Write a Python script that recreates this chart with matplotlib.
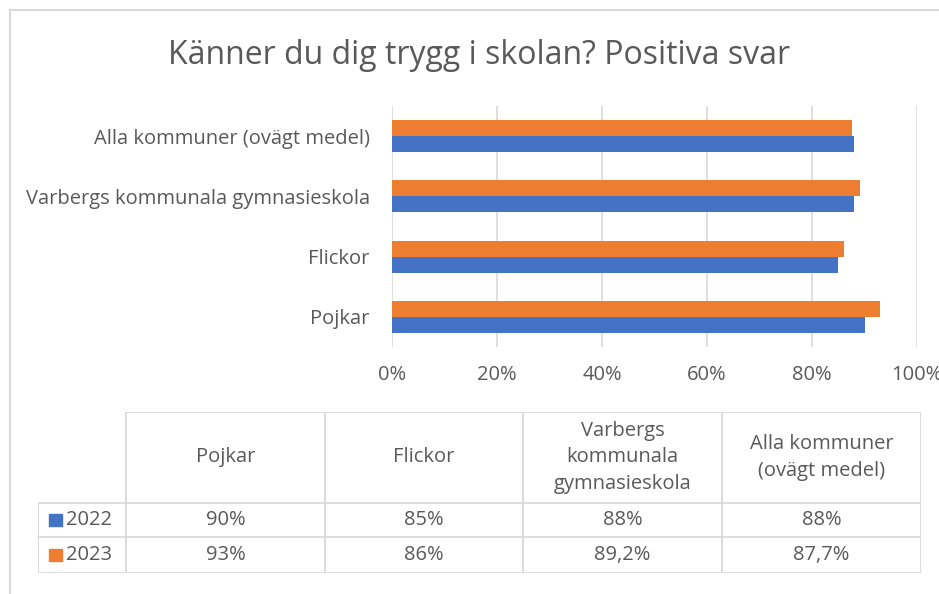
import numpy as np
import matplotlib
matplotlib.use("Agg")
import matplotlib.pyplot as plt
from matplotlib.lines import Line2D
from matplotlib.patches import Rectangle

plt.rcParams['font.family'] = ['Open Sans', 'DejaVu Sans']

# data
categories = ["Pojkar", "Flickor", "Varbergs kommunala gymnasieskola", "Alla kommuner (ovägt medel)"]
table_headers = ["Pojkar", "Flickor", "Varbergs\nkommunala\ngymnasieskola", "Alla kommuner\n(ovägt medel)"]
years = ["2022", "2023"]
values_2022 = [0.90, 0.85, 0.88, 0.88]
values_2023 = [0.93, 0.86, 0.892, 0.877]
labels_2022 = ["90%", "85%", "88%", "88%"]
labels_2023 = ["93%", "86%", "89,2%", "87,7%"]
x_ticks = [0, 0.2, 0.4, 0.6, 0.8, 1.0]
x_ticklabels = ["0%", "20%", "40%", "60%", "80%", "100%"]

title = "Känner du dig trygg i skolan? Positiva svar"

blue = "#4472c4"
orange = "#ed7d31"
grey_text = "#595959"
grid_col = "#d9d9d9"

W, H = 939, 594
fig = plt.figure(figsize=(W / 100, H / 100), dpi=100)


def box(x0, y0, x1, y1):
    # pixel box (top-left origin) -> figure fraction
    return [x0 / W, 1 - y1 / H, (x1 - x0) / W, (y1 - y0) / H]


# outer frame (left and top edges visible)
fig.add_artist(Line2D([10 / W, 10 / W], [0, 1 - 10 / H], color=grid_col, lw=1.5))
fig.add_artist(Line2D([10 / W, 1], [1 - 10 / H, 1 - 10 / H], color=grid_col, lw=1.5))

fig.text(479 / W, 1 - 56 / H, title, ha="center", va="center", fontsize=23, color=grey_text)

# bar chart
ax = fig.add_axes(box(392, 106, 917, 347))
y = np.arange(len(categories))
h = 0.265
ax.barh(y - h / 2, values_2022, height=h, color=blue, label=years[0], zorder=3)
ax.barh(y + h / 2, values_2023, height=h, color=orange, label=years[1], zorder=3)
ax.set_xlim(0, 1)
ax.set_ylim(-0.5, len(categories) - 0.5)
ax.set_xticks(x_ticks)
ax.set_xticklabels(x_ticklabels)
ax.set_yticks(y)
ax.set_yticklabels(categories)
ax.grid(axis="x", color=grid_col, lw=1.2, zorder=0)
for s in ax.spines.values():
    s.set_visible(False)
ax.tick_params(length=0, labelsize=14.5, labelcolor=grey_text)
ax.tick_params(axis="x", pad=13)
ax.tick_params(axis="y", pad=16)

# data table
tax = fig.add_axes(box(38, 412, 921, 573))
tax.set_xlim(38, 921)
tax.set_ylim(573, 412)
tax.axis("off")
col_edges = [38, 126, 325, 523, 722, 921]
row_edges = [412, 503, 537, 573]
lc = dict(color=grid_col, lw=1.3, solid_capstyle="butt")
# horizontal lines
tax.plot([126, 921], [row_edges[0]] * 2, **lc)
for r in row_edges[1:]:
    tax.plot([38, 921], [r, r], **lc)
# vertical lines
tax.plot([38, 38], [row_edges[1], row_edges[-1]], **lc)
for c in col_edges[1:]:
    tax.plot([c, c], [row_edges[0], row_edges[-1]], **lc)

for i, hdr in enumerate(table_headers):
    cx = (col_edges[i + 1] + col_edges[i + 2]) / 2
    tax.text(cx, (row_edges[0] + row_edges[1]) / 2, hdr, ha="center", va="center",
             fontsize=14.5, color=grey_text, linespacing=1.45)

rows = [(years[0], blue, labels_2022), (years[1], orange, labels_2023)]
for j, (yr, col, labs) in enumerate(rows):
    cy = (row_edges[j + 1] + row_edges[j + 2]) / 2
    tax.add_patch(Rectangle((49, cy - 6), 13, 12, color=col))
    tax.text(66, cy, yr, ha="left", va="center", fontsize=14.5, color=grey_text)
    for i, lab in enumerate(labs):
        cx = (col_edges[i + 1] + col_edges[i + 2]) / 2
        tax.text(cx, cy, lab, ha="center", va="center", fontsize=14.5, color=grey_text)

fig.savefig("out.png", dpi=100)
